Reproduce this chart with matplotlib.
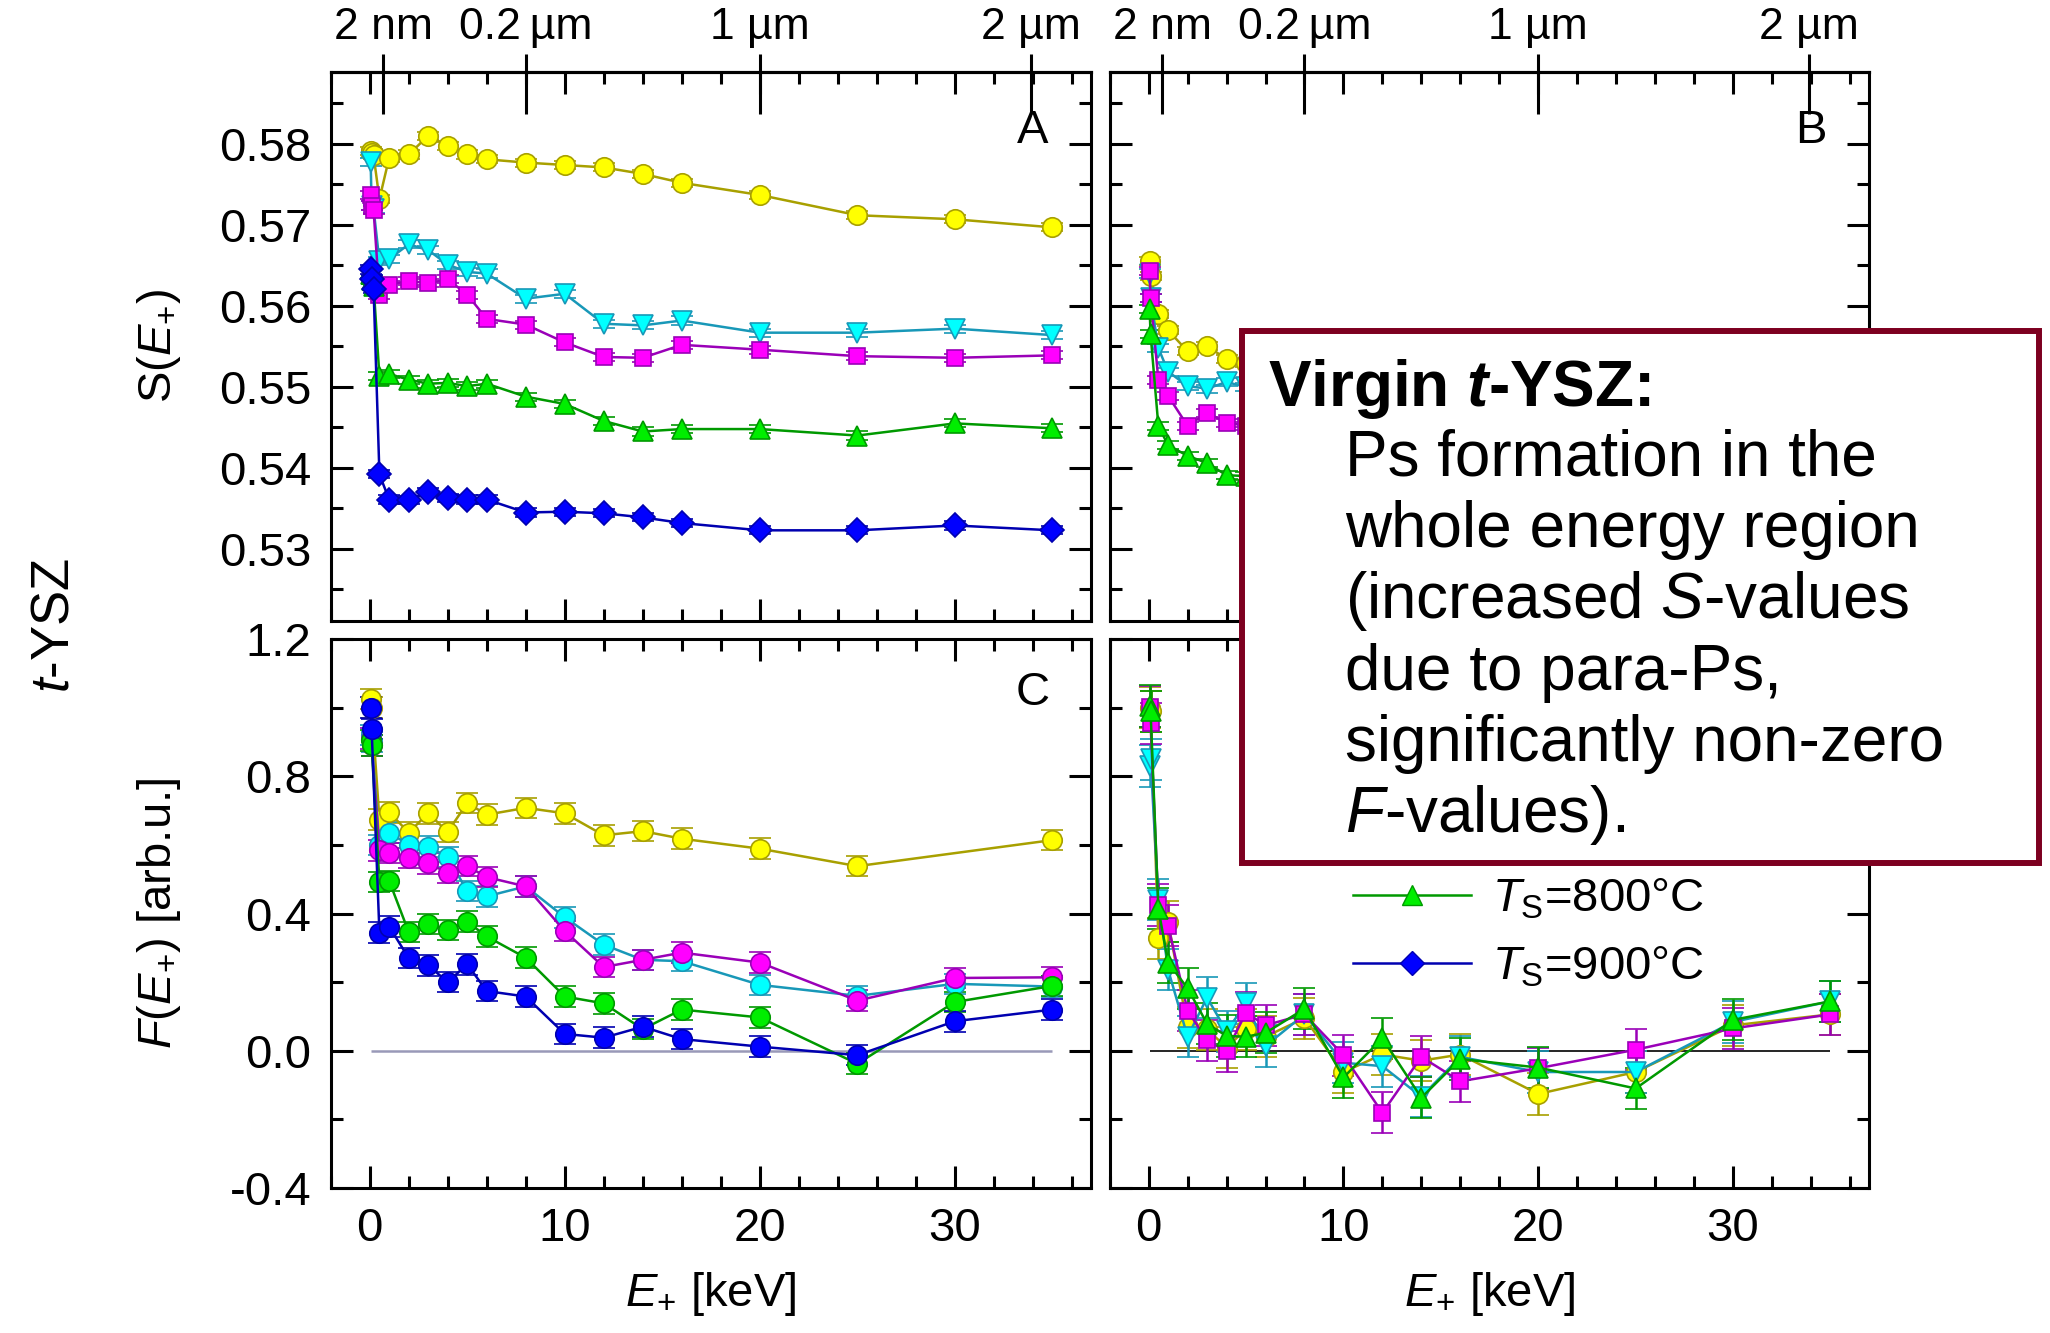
"""
S(E) and F(E) depth profiles of virgin t-YSZ films, four-panel figure
"""

import matplotlib
matplotlib.use("Agg")
import matplotlib.pyplot as plt
from matplotlib.lines import Line2D
from matplotlib.patches import Rectangle
from matplotlib.ticker import MultipleLocator, FormatStrFormatter

plt.rcParams.update({
    'font.family': ['Liberation Sans', 'DejaVu Sans'],
    'mathtext.fontset': 'custom',
    'mathtext.rm': 'Liberation Sans',
    'mathtext.it': 'Liberation Sans:italic',
    'mathtext.bf': 'Liberation Sans:bold',
    'mathtext.bfit': 'Liberation Sans:italic:bold',
    'axes.unicode_minus': False,
})

# positron energies [keV]
E_A = [0.05, 0.1, 0.2, 0.5, 1, 2, 3, 4, 5, 6, 8, 10, 12, 14, 16, 20, 25, 30, 35]
E_B = [0.05, 0.1, 0.5, 1, 2, 3, 4, 5, 6, 8, 10, 12, 14, 16, 20, 25, 30, 35]
E_C = [0.05, 0.1, 0.5, 1, 2, 3, 4, 5, 6, 8, 10, 12, 14, 16, 20, 25, 30, 35]
E_C_yellow = [0.05, 0.1, 0.5, 1, 2, 3, 4, 5, 6, 8, 10, 12, 14, 16, 20, 25, 35]
E_D = [0.05, 0.1, 0.5, 1, 2, 3, 4, 5, 6, 8, 10, 12, 14, 16, 20, 25, 30, 35]

# panel A: S(E)
S_A_yellow = [0.5791, 0.5789, 0.5786, 0.5732, 0.5783, 0.5787, 0.5810, 0.5798, 0.5787, 0.5781,
              0.5777, 0.5774, 0.5771, 0.5763, 0.5752, 0.5737, 0.5712, 0.5707, 0.5697]
S_A_cyan = [0.5778, 0.5724, 0.5720, 0.5655, 0.5658, 0.5676, 0.5669, 0.5651, 0.5642, 0.5640,
            0.5609, 0.5615, 0.5578, 0.5576, 0.5582, 0.5567, 0.5567, 0.5572, 0.5564]
S_A_magenta = [0.5737, 0.5724, 0.5718, 0.5613, 0.5626, 0.5631, 0.5628, 0.5633, 0.5614, 0.5584,
               0.5577, 0.5555, 0.5537, 0.5536, 0.5552, 0.5546, 0.5538, 0.5536, 0.5539]
S_A_green = [0.5640, 0.5632, 0.5625, 0.5513, 0.5516, 0.5509, 0.5504, 0.5505, 0.5501, 0.5504,
             0.5488, 0.5479, 0.5458, 0.5445, 0.5448, 0.5448, 0.5440, 0.5455, 0.5449]
S_A_blue = [0.5645, 0.5633, 0.5621, 0.5392, 0.5361, 0.5360, 0.5370, 0.5363, 0.5361, 0.5361,
            0.5345, 0.5346, 0.5344, 0.5339, 0.5332, 0.5323, 0.5323, 0.5329, 0.5323]

# panel B: S(E), mostly behind the text box above 5 keV
S_B_yellow = [0.5656, 0.5637, 0.5590, 0.5570, 0.5544, 0.5551, 0.5534, 0.5530, 0.5528, 0.5525,
              0.5522, 0.5520, 0.5518, 0.5515, 0.5512, 0.5510, 0.5508, 0.5505]
S_B_cyan = [0.5640, 0.5610, 0.5548, 0.5519, 0.5501, 0.5498, 0.5506, 0.5500, 0.5498, 0.5495,
            0.5493, 0.5490, 0.5490, 0.5488, 0.5487, 0.5486, 0.5486, 0.5485]
S_B_magenta = [0.5643, 0.5610, 0.5509, 0.5489, 0.5452, 0.5468, 0.5456, 0.5452, 0.5450, 0.5448,
               0.5446, 0.5444, 0.5443, 0.5442, 0.5441, 0.5440, 0.5440, 0.5440]
S_B_green = [0.5596, 0.5565, 0.5452, 0.5428, 0.5415, 0.5406, 0.5391, 0.5390, 0.5388, 0.5386,
             0.5384, 0.5383, 0.5382, 0.5381, 0.5380, 0.5380, 0.5379, 0.5379]

# panel C: F(E)
F_C_yellow = [1.025, 1.000, 0.674, 0.695, 0.636, 0.692, 0.638, 0.722, 0.688, 0.708,
              0.692, 0.628, 0.640, 0.618, 0.589, 0.538, 0.614]
F_C_cyan = [0.920, 0.900, 0.600, 0.636, 0.600, 0.595, 0.565, 0.465, 0.450, 0.479,
            0.389, 0.309, 0.265, 0.261, 0.192, 0.160, 0.195, 0.187]
F_C_magenta = [0.910, 0.890, 0.584, 0.576, 0.562, 0.546, 0.519, 0.538, 0.506, 0.479,
               0.349, 0.244, 0.265, 0.286, 0.257, 0.146, 0.212, 0.214]
F_C_green = [0.905, 0.890, 0.492, 0.495, 0.346, 0.369, 0.352, 0.376, 0.333, 0.271,
             0.158, 0.138, 0.063, 0.120, 0.097, -0.038, 0.142, 0.189]
F_C_blue = [1.000, 0.938, 0.344, 0.362, 0.270, 0.249, 0.200, 0.252, 0.174, 0.158,
            0.049, 0.038, 0.070, 0.034, 0.012, -0.013, 0.086, 0.120]

# panel D: F(E)
F_D_yellow = [1.000, 0.990, 0.328, 0.376, 0.068, 0.063, 0.009, 0.063, 0.041, 0.095,
              -0.062, -0.011, -0.029, -0.011, -0.126, -0.062, 0.074, 0.106]
F_D_cyan = [0.830, 0.850, 0.440, 0.236, 0.041, 0.155, 0.057, 0.138, 0.014, 0.106,
            -0.035, -0.045, -0.134, -0.018, -0.062, -0.062, 0.084, 0.144]
F_D_magenta = [1.003, 0.955, 0.425, 0.365, 0.117, 0.030, -0.002, 0.111, 0.074, 0.106,
               -0.013, -0.181, -0.018, -0.089, -0.051, 0.003, 0.065, 0.106]
F_D_green = [1.005, 0.990, 0.414, 0.257, 0.182, 0.079, 0.043, 0.041, 0.052, 0.122,
             -0.078, 0.036, -0.137, -0.024, -0.049, -0.110, 0.090, 0.144]

# error bars (roughly constant per panel)
err_S = 0.0005
err_FC = 0.03
err_FD = 0.06

# mean implantation depth marks on top axis
depth_E = [0.7, 8.0, 20.0, 33.9]
depth_lbl = ["2 nm", "0.2\u2009\u00b5m", "1 \u00b5m", "2 \u00b5m"]

legend_lbl = [r"$T_{\mathrm{S}}$=800°C", r"$T_{\mathrm{S}}$=900°C"]

box_lines = [
    r"Virgin $\mathbfit{t}$-YSZ:",
    "Ps formation in the",
    "whole energy region",
    r"(increased $S$-values",
    "due to para-Ps,",
    "significantly non-zero",
    r"$F$-values).",
]

# styles: (marker fill, line/edge colour)
YEL = ('#FFFF00', '#A8A000')
CYA = ('#00FFFF', '#1898B8')
MAG = ('#FF00FF', '#9A00B8')
GRN = ('#00EE00', '#009900')
BLU = ('#0000FF', '#0000B0')
MS = {'o': 14, 'v': 14, '^': 14, 's': 12, 'D': 12}

TICK_FS = 34
LW = 2.2


def draw(ax, x, y, err, col, marker):
    face, line = col
    ax.errorbar(x, y, yerr=err, color=line, lw=1.8, marker=marker, ms=MS[marker],
                mfc=face, mec=line, mew=1.2, elinewidth=1.8, capsize=8, capthick=2.2)


def style_axis(ax, ylim, major, minor, fmt, show_x, show_y):
    ax.set_xlim(-2, 37)
    ax.set_ylim(*ylim)
    ax.xaxis.set_major_locator(MultipleLocator(10))
    ax.xaxis.set_minor_locator(MultipleLocator(2))
    ax.yaxis.set_major_locator(MultipleLocator(major))
    ax.yaxis.set_minor_locator(MultipleLocator(minor))
    ax.yaxis.set_major_formatter(FormatStrFormatter(fmt))
    ax.tick_params(which='both', direction='in', top=True, right=True, width=LW,
                   labelsize=TICK_FS, labelbottom=show_x, labelleft=show_y)
    ax.tick_params(which='major', length=15.8)
    ax.tick_params(which='minor', length=8.6)
    ax.tick_params(axis='x', pad=14)
    ax.tick_params(axis='y', pad=14)
    for sp in ax.spines.values():
        sp.set_linewidth(LW)


def add_depth_axis(ax):
    sec = ax.secondary_xaxis('top')
    sec.set_xticks(depth_E, labels=depth_lbl)
    sec.tick_params(direction='out', length=13, width=LW, labelsize=32, pad=4)
    sec.spines['top'].set_linewidth(LW)
    sec2 = ax.secondary_xaxis('top')
    sec2.set_xticks(depth_E, labels=[''] * len(depth_E))
    sec2.tick_params(direction='in', length=30, width=LW)
    sec2.spines['top'].set_linewidth(LW)


fig = plt.figure(figsize=(20.5, 13.33), dpi=100)
axA = fig.add_axes([0.1613, 0.5341, 0.3711, 0.4120])
axB = fig.add_axes([0.5413, 0.5341, 0.3706, 0.4120])
axC = fig.add_axes([0.1613, 0.1088, 0.3711, 0.4118])
axD = fig.add_axes([0.5413, 0.1088, 0.3706, 0.4118])

# panel A
draw(axA, E_A, S_A_yellow, err_S, YEL, 'o')
draw(axA, E_A, S_A_cyan, err_S, CYA, 'v')
draw(axA, E_A, S_A_magenta, err_S, MAG, 's')
draw(axA, E_A, S_A_green, err_S, GRN, '^')
draw(axA, E_A, S_A_blue, err_S, BLU, 'D')

# panel B
draw(axB, E_B, S_B_yellow, err_S, YEL, 'o')
draw(axB, E_B, S_B_cyan, err_S, CYA, 'v')
draw(axB, E_B, S_B_magenta, err_S, MAG, 's')
draw(axB, E_B, S_B_green, err_S, GRN, '^')

# panel C
axC.hlines(0, E_C[0], E_C[-1], color='#9999B8', lw=1.8, zorder=1)
draw(axC, E_C_yellow, F_C_yellow, err_FC, YEL, 'o')
draw(axC, E_C, F_C_cyan, err_FC, CYA, 'o')
draw(axC, E_C, F_C_magenta, err_FC, MAG, 'o')
draw(axC, E_C, F_C_green, err_FC, GRN, 'o')
draw(axC, E_C, F_C_blue, err_FC, BLU, 'o')

# panel D
axD.hlines(0, E_D[0], E_D[-1], color='black', lw=1.2, zorder=1)
draw(axD, E_D, F_D_yellow, err_FD, YEL, 'o')
draw(axD, E_D, F_D_cyan, err_FD, CYA, 'v')
draw(axD, E_D, F_D_magenta, err_FD, MAG, 's')
draw(axD, E_D, F_D_green, err_FD, GRN, '^')

style_axis(axA, (0.5211, 0.5889), 0.01, 0.005, '%.2f', False, True)
style_axis(axB, (0.5211, 0.5889), 0.01, 0.005, '%.2f', False, False)
style_axis(axC, (-0.4, 1.2), 0.4, 0.2, '%.1f', True, True)
style_axis(axD, (-0.4, 1.2), 0.4, 0.2, '%.1f', True, False)
add_depth_axis(axA)
add_depth_axis(axB)

axA.set_ylabel(r"S($E_{+}$)", fontsize=34)
axA.yaxis.set_label_coords(-0.194, 0.5)
axC.set_ylabel(r"$F$($E_{+}$) [arb.u.]", fontsize=34)
axC.yaxis.set_label_coords(-0.194, 0.5)
for ax in (axC, axD):
    ax.set_xlabel(r"$E_{+}$ [keV]", fontsize=34)
    ax.xaxis.set_label_coords(0.5, -0.15)

for ax, letter, yy in ((axA, 'A', 0.893), (axB, 'B', 0.893), (axC, 'C', 0.902)):
    ax.text(0.923, yy, letter, transform=ax.transAxes, fontsize=34, ha='center', va='center')

fig.text(0.0265, 0.531, r"$t$-YSZ", rotation=90, fontsize=38, ha='center', va='center')

# legend (upper entries are covered by the box)
handles = [
    Line2D([], [], color=GRN[1], lw=1.8, marker='^', ms=14, mfc=GRN[0], mec=GRN[1]),
    Line2D([], [], color=BLU[1], lw=1.8, marker='D', ms=12, mfc=BLU[0], mec=BLU[1]),
]
axD.legend(handles, legend_lbl, loc='center left', bbox_to_anchor=(0.32, 0.464),
           frameon=False, fontsize=34, handlelength=2.5, handletextpad=0.45,
           labelspacing=0.5, borderpad=0, borderaxespad=0, numpoints=1)

# annotation box
box = Rectangle((0.6059, 0.3526), 0.3888, 0.3991, transform=fig.transFigure,
                facecolor='white', edgecolor='#7D0020', lw=4.3, zorder=10)
fig.add_artist(box)
baselines = [406, 476, 547, 618, 690, 761, 832]
for i, (txt, yb) in enumerate(zip(box_lines, baselines)):
    x0 = 1268 if i == 0 else 1345
    fig.text(x0 / 2050, 1 - yb / 1333, txt, fontsize=46, ha='left', va='baseline',
             fontweight='bold' if i == 0 else 'normal', zorder=11)

fig.savefig('out.png', dpi=100)
plt.close(fig)
